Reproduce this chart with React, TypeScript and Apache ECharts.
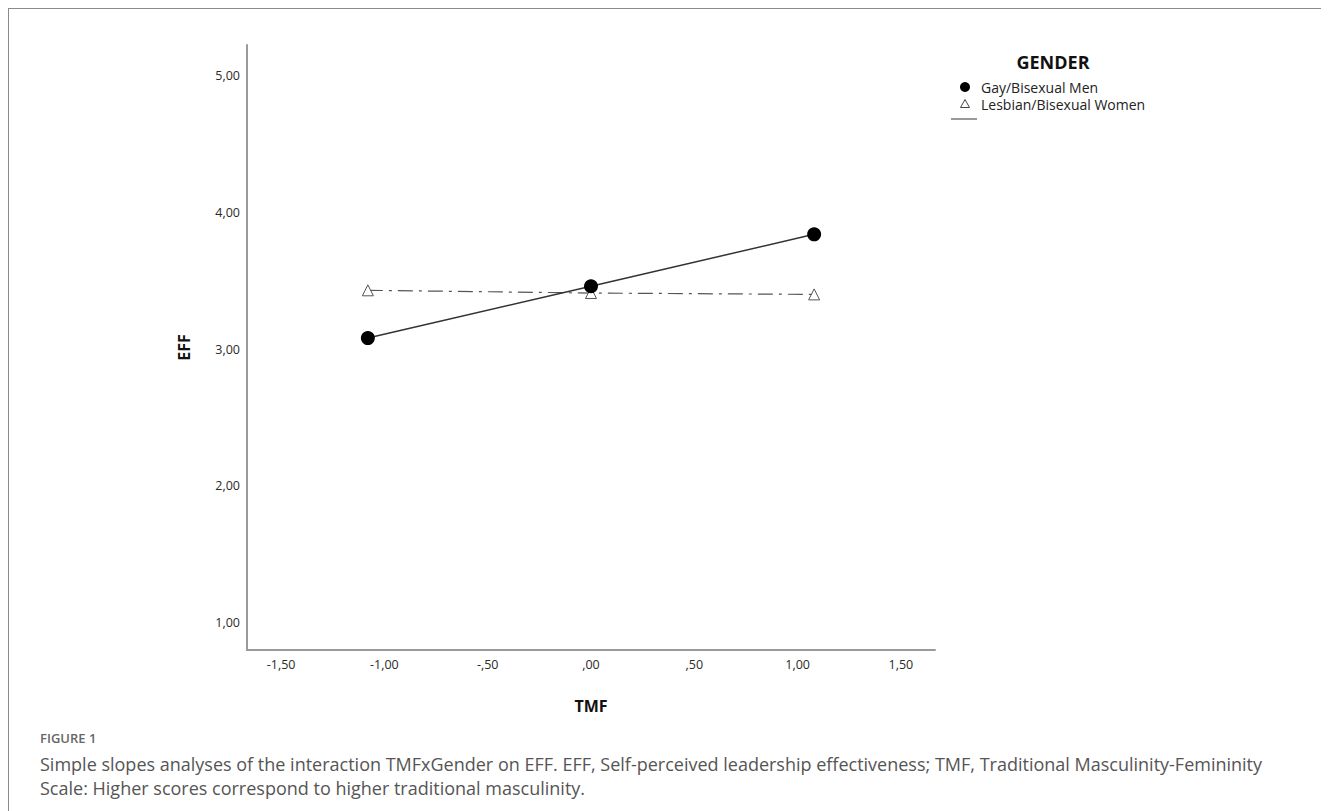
import React, { useEffect, useRef } from "react";
import * as echarts from "echarts";

const tmfValues = [-1.08, 0.0, 1.08];
const gayBiMen = [3.08, 3.46, 3.84];
const lesbianBiWomen = [3.43, 3.41, 3.4];
const xTicks = [-1.5, -1.0, -0.5, 0.0, 0.5, 1.0, 1.5];
const yTicks = [1, 2, 3, 4, 5];
const seriesNames = ["Gay/Bisexual Men", "Lesbian/Bisexual Women"];
const captionLines = [
  "Simple slopes analyses of the interaction TMFxGender on EFF. EFF, Self-perceived leadership effectiveness; TMF, Traditional Masculinity-Femininity",
  "Scale: Higher scores correspond to higher traditional masculinity.",
];

const fmt = (v: number) => {
  const s = Math.abs(v).toFixed(2).replace(".", ",");
  const body = s.startsWith("0,") ? s.slice(1) : s;
  return (v < 0 ? "-" : "") + body;
};

export default function App() {
  const ref = useRef<HTMLDivElement>(null);
  useEffect(() => {
    if (!ref.current) return;
    const chart = echarts.init(ref.current, undefined, { renderer: "svg" });
    const font = "'Open Sans', 'DejaVu Sans', sans-serif";
    chart.setOption({
      animation: false,
      grid: { left: 239, top: 37, width: 688, height: 605 },
      xAxis: {
        type: "value",
        min: -1.665,
        max: 1.665,
        name: "TMF",
        nameLocation: "middle",
        nameGap: 48,
        nameTextStyle: { fontSize: 16, fontWeight: "bold", color: "#111", fontFamily: font },
        axisLine: { show: true, onZero: false, lineStyle: { color: "#9a9a9a", width: 2 } },
        axisTick: { show: false },
        splitLine: { show: false },
        axisLabel: {
          margin: 8,
          fontSize: 12.5,
          color: "#2a2a2a",
          fontFamily: font,
          customValues: xTicks,
          formatter: (v: number) => fmt(v),
        },
      },
      yAxis: {
        type: "value",
        min: 0.795,
        max: 5.227,
        name: "EFF",
        nameLocation: "middle",
        nameRotate: 90,
        nameGap: 55,
        nameTextStyle: { fontSize: 16, fontWeight: "bold", color: "#111", fontFamily: font },
        axisLine: { show: true, onZero: false, lineStyle: { color: "#9a9a9a", width: 2 } },
        axisTick: { show: false },
        splitLine: { show: false },
        axisLabel: {
          margin: 7,
          fontSize: 12.5,
          color: "#2a2a2a",
          fontFamily: font,
          customValues: yTicks,
          formatter: (v: number) => fmt(v),
        },
      },
      series: [
        {
          name: seriesNames[0],
          type: "line",
          data: tmfValues.map((x, i) => [x, gayBiMen[i]]),
          symbol: "circle",
          symbolSize: 14,
          itemStyle: { color: "#000" },
          lineStyle: { color: "#333", width: 1.5 },
          z: 3,
        },
        {
          name: seriesNames[1],
          type: "line",
          data: tmfValues.map((x, i) => [x, lesbianBiWomen[i]]),
          symbol: "triangle",
          symbolSize: 11,
          itemStyle: { color: "#fff", borderColor: "#555", borderWidth: 1 },
          lineStyle: { color: "#555", width: 1.2, type: [15, 6, 3, 6] },
          z: 2,
        },
      ],
      graphic: [
        { type: "line", shape: { x1: 0, y1: 0, x2: 1321, y2: 0 }, style: { stroke: "#8a8a8a", lineWidth: 2 } },
        { type: "line", shape: { x1: 0, y1: 0, x2: 0, y2: 803 }, style: { stroke: "#8a8a8a", lineWidth: 2 } },
        {
          type: "text",
          x: 1045,
          y: 54,
          style: { text: "GENDER", fill: "#111", font: `bold 18px ${font}`, textAlign: "center", textVerticalAlign: "middle" },
        },
        { type: "circle", shape: { cx: 957, cy: 79, r: 5 }, style: { fill: "#000" } },
        {
          type: "text",
          x: 973,
          y: 79,
          style: { text: seriesNames[0], fill: "#222", font: `14px ${font}`, textVerticalAlign: "middle" },
        },
        {
          type: "polygon",
          shape: { points: [[957, 91.5], [961.5, 99.5], [952.5, 99.5]] },
          style: { fill: "#fff", stroke: "#444", lineWidth: 1 },
        },
        {
          type: "text",
          x: 973,
          y: 96,
          style: { text: seriesNames[1], fill: "#222", font: `14px ${font}`, textVerticalAlign: "middle" },
        },
        { type: "line", shape: { x1: 943, y1: 111, x2: 969, y2: 111 }, style: { stroke: "#555", lineWidth: 1.2 } },
        {
          type: "text",
          x: 32,
          y: 730,
          style: { text: "FIGURE 1", fill: "#666", font: `600 13px ${font}`, textVerticalAlign: "middle" },
        },
        {
          type: "text",
          x: 32,
          y: 756,
          style: { text: captionLines[0], fill: "#555", font: `18px ${font}`, textVerticalAlign: "middle" },
        },
        {
          type: "text",
          x: 32,
          y: 780,
          style: { text: captionLines[1], fill: "#555", font: `18px ${font}`, textVerticalAlign: "middle" },
        },
      ],
    });
    return () => chart.dispose();
  }, []);
  return <div ref={ref} style={{ width: 1321, height: 803 }} />;
}
